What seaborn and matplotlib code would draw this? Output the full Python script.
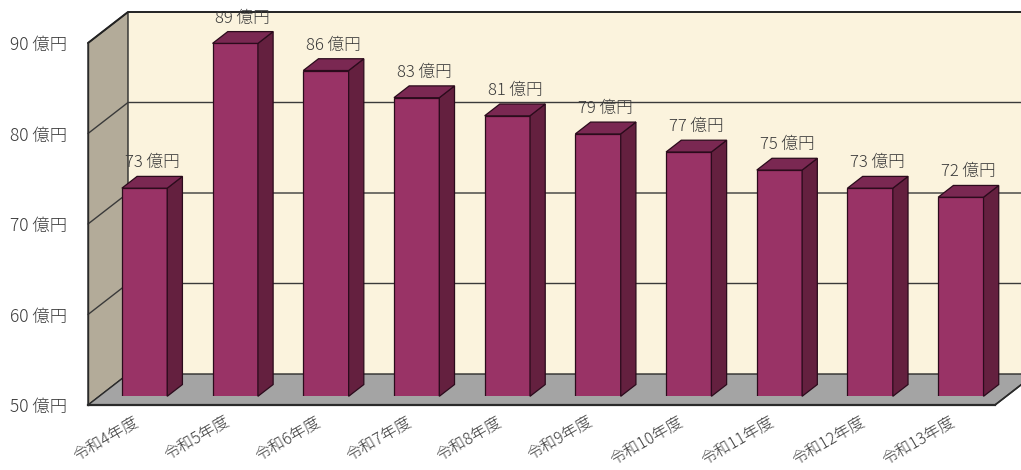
import numpy as np
import pandas as pd
import matplotlib
matplotlib.use("Agg")
import matplotlib.pyplot as plt
import seaborn as sns
from matplotlib.patches import Polygon, Rectangle
from matplotlib.lines import Line2D
from matplotlib.transforms import IdentityTransform, ScaledTranslation

# Projected revenue by fiscal year (億円)
categories = ["令和4年度", "令和5年度", "令和6年度", "令和7年度", "令和8年度",
              "令和9年度", "令和10年度", "令和11年度", "令和12年度", "令和13年度"]
values = [73, 89, 86, 83, 81, 79, 77, 75, 73, 72]
y_ticks = [50, 60, 70, 80, 90]
unit = "億円"

sns.set_theme(style="white")
plt.rcParams["font.family"] = ["Noto Sans CJK JP", "DejaVu Sans"]
plt.rcParams["font.weight"] = "light"

DPI = 100
W, H = 1021, 470
fig = plt.figure(figsize=(W / DPI, H / DPI), dpi=DPI)
fig.patch.set_facecolor("white")
ax = fig.add_axes([88 / W, 65 / H, 907 / W, 362 / H])

df = pd.DataFrame({"year": categories, "amount": values})
sns.barplot(data=df, x="year", y="amount", color="#993366", saturation=1,
            width=0.5, edgecolor="#2b0b1c", linewidth=0.9, ax=ax, zorder=3)
ax.set_xlim(-0.5, len(categories) - 0.5)
ax.set_ylim(y_ticks[0], y_ticks[-1])
ax.patch.set_alpha(0)
ax.set_xlabel("")
ax.set_ylabel("")

# pseudo-3D depth vector (pixels) and the depth planes of the bars
DX, DY = 40.0, 31.0
D_FRONT, D_BACK = 0.28, 0.66
x_lo, x_hi = ax.get_xlim()
y_lo, y_hi = ax.get_ylim()


def proj(x, y, d):
    px, py = ax.transData.transform((x, y))
    return (px + d * DX, py + d * DY)


def poly(pts, **kw):
    p = Polygon(pts, closed=True, transform=IdentityTransform(), clip_on=False, **kw)
    ax.add_patch(p)
    return p


def seg(pts, **kw):
    xs, ys = zip(*pts)
    ln = Line2D(xs, ys, transform=IdentityTransform(), clip_on=False, **kw)
    ax.add_line(ln)
    return ln


edge = "#2a2a2a"
text_c = "#3a3a3a"
# back wall
poly([proj(x_lo, y_lo, 1), proj(x_hi, y_lo, 1), proj(x_hi, y_hi, 1), proj(x_lo, y_hi, 1)],
     facecolor="#fbf3dd", edgecolor="none", zorder=0.2)
# left side wall
poly([proj(x_lo, y_lo, 0), proj(x_lo, y_lo, 1), proj(x_lo, y_hi, 1), proj(x_lo, y_hi, 0)],
     facecolor="#b3ab99", edgecolor=edge, linewidth=1.0, zorder=0.3)
# floor
poly([proj(x_lo, y_lo, 0), proj(x_hi, y_lo, 0), proj(x_hi, y_lo, 1), proj(x_lo, y_lo, 1)],
     facecolor="#a4a4a4", edgecolor=edge, linewidth=1.0, zorder=0.3)

# gridlines on the walls
for t in y_ticks[1:-1]:
    seg([proj(x_lo, t, 0), proj(x_lo, t, 1), proj(x_hi, t, 1)], color="#3a3a3a",
        linewidth=1.0, zorder=0.4)
seg([proj(x_lo, y_hi, 0), proj(x_lo, y_hi, 1), proj(x_hi, y_hi, 1)], color="#222222",
    linewidth=1.4, zorder=0.4)

# bars: front faces from seaborn, shifted into the depth plane
shift_front = ScaledTranslation(D_FRONT * DX / DPI, D_FRONT * DY / DPI, fig.dpi_scale_trans)
clip = Rectangle((0, 0), 1, 1, transform=ax.transAxes + shift_front)
side_c, top_c = "#64203f", "#7a2852"
for p, v in zip(ax.patches[: len(values)], values):
    p.set_transform(ax.transData + shift_front)
    p.set_clip_path(clip)
    x0, w = p.get_x(), p.get_width()
    top = p.get_y() + p.get_height()
    poly([proj(x0 + w, y_lo, D_FRONT), proj(x0 + w, top, D_FRONT),
          proj(x0 + w, top, D_BACK), proj(x0 + w, y_lo, D_BACK)],
         facecolor=side_c, edgecolor="#2b0b1c", linewidth=0.9, zorder=3)
    poly([proj(x0, top, D_FRONT), proj(x0 + w, top, D_FRONT),
          proj(x0 + w, top, D_BACK), proj(x0, top, D_BACK)],
         facecolor=top_c, edgecolor="#2b0b1c", linewidth=0.9, zorder=3)
    cx, _ = proj(x0 + w / 2, top, (D_FRONT + D_BACK) / 2)
    _, cy = proj(x0 + w / 2, top, D_BACK)
    ax.text(cx, cy + 5, f"{v} {unit}", transform=IdentityTransform(), ha="center",
            va="bottom", fontsize=12, color=text_c, zorder=5, clip_on=False)

# axes lines, ticks and labels
for s in ["top", "right"]:
    ax.spines[s].set_visible(False)
ax.spines["bottom"].set_color("#2a2a2a")
ax.spines["bottom"].set_linewidth(1.6)
ax.spines["left"].set_color("#2a2a2a")
ax.spines["left"].set_linewidth(1.0)
seg([proj(x_hi, y_lo, 0), proj(x_hi, y_lo, 1)], color="#2a2a2a", linewidth=1.2, zorder=0.5)

ax.set_yticks(y_ticks)
ax.set_yticklabels([f"{t} {unit}" for t in y_ticks])
ax.tick_params(axis="y", length=0, pad=15, labelsize=12.5, labelcolor=text_c)

ax.set_xticks(range(len(categories)))
ax.set_xticklabels(categories, rotation=30, ha="right", va="top", rotation_mode="anchor")
ax.tick_params(axis="x", which="major", length=0, pad=5.5, labelsize=11.5, labelcolor=text_c)
ax.set_xticks(np.arange(0.5, len(categories) - 1, 1.0), minor=True)
ax.tick_params(axis="x", which="minor", length=6, direction="inout", color="#444444", width=1)

fig.savefig("out.png", dpi=DPI, facecolor="white")
